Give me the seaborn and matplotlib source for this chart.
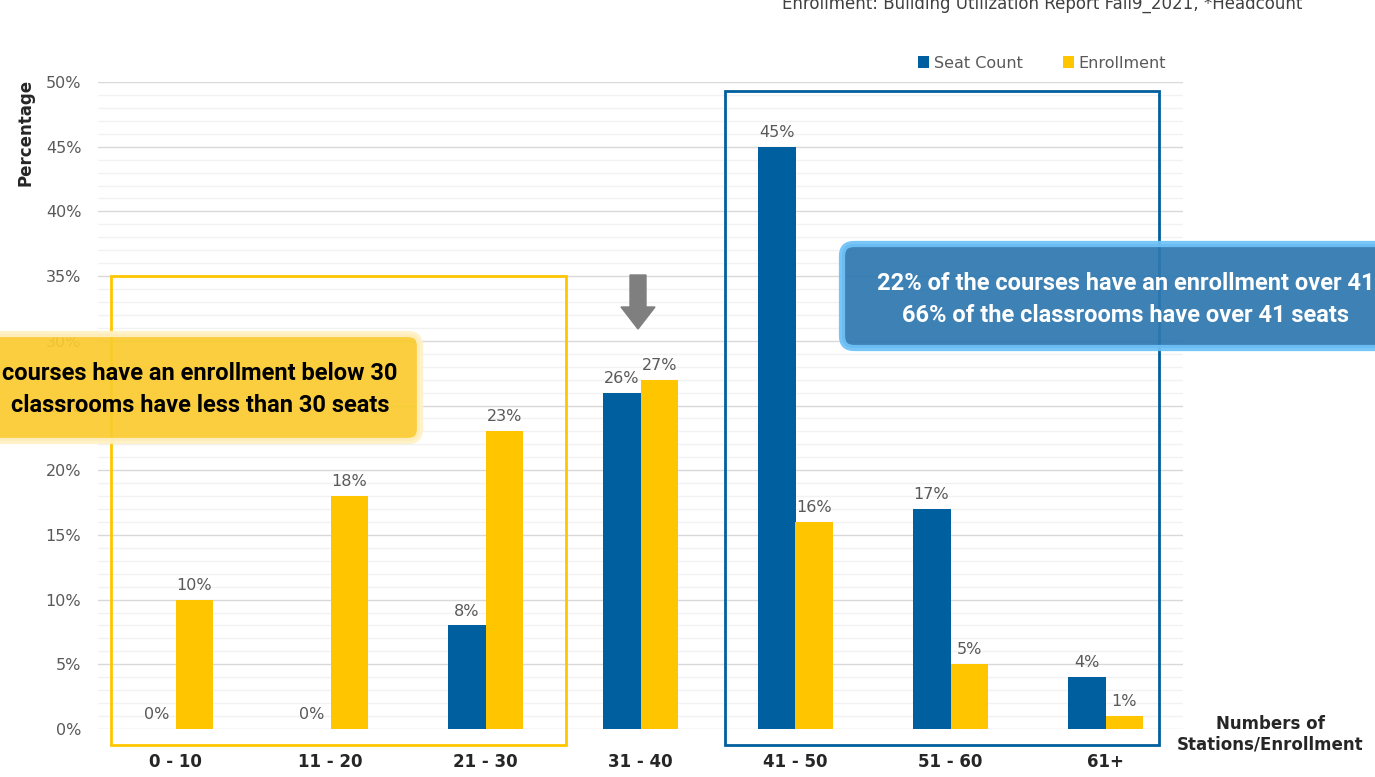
import numpy as np
import pandas as pd
import matplotlib
matplotlib.use("Agg")
import matplotlib.pyplot as plt
import matplotlib.patches as mpatches
from matplotlib.ticker import MultipleLocator, FuncFormatter
import seaborn as sns

# values (percent)
CATEGORIES = ["0 - 10", "11 - 20", "21 - 30", "31 - 40", "41 - 50", "51 - 60", "61+"]
SEAT_COUNT = [0, 0, 8, 26, 45, 17, 4]
ENROLLMENT = [10, 18, 23, 27, 16, 5, 1]
SERIES     = ["Seat Count", "Enrollment"]

BLUE   = "#005F9E"
YELLOW = "#FFC600"
GREY   = "#595959"

df = pd.DataFrame({
    "range":  CATEGORIES * 2,
    "pct":    SEAT_COUNT + ENROLLMENT,
    "series": [SERIES[0]] * len(CATEGORIES) + [SERIES[1]] * len(CATEGORIES),
})

sns.set_style("white")
plt.rcParams["font.family"] = ["DejaVu Sans"]
COND = ["Roboto", "DejaVu Sans"]

fig = plt.figure(figsize=(13.75, 7.77), dpi=100)
ax = fig.add_axes([98 / 1375, 48 / 777, (1183 - 98) / 1375, (729 - 82) / 777])

sns.barplot(data=df, x="range", y="pct", hue="series", order=CATEGORIES,
            hue_order=SERIES, palette=[BLUE, YELLOW], width=0.49, gap=0,
            saturation=1, linewidth=0, ax=ax, zorder=2)

for cont in ax.containers:
    ax.bar_label(cont, fmt="%g%%", padding=5, color=GREY, fontsize=11.5)

ax.set_xlim(-0.5, 6.5)
ax.set_ylim(0, 50)
ax.yaxis.set_major_locator(MultipleLocator(5))
ax.yaxis.set_minor_locator(MultipleLocator(1))
ax.yaxis.set_major_formatter(FuncFormatter(lambda v, _: f"{v:.0f}%"))
ax.grid(axis="y", which="major", color="#d9d9d9", lw=1, zorder=0)
ax.grid(axis="y", which="minor", color="#f2f2f2", lw=1, zorder=0)
ax.set_axisbelow(True)
sns.despine(ax=ax, left=True, bottom=True)
ax.tick_params(axis="y", which="both", length=0, labelsize=11.5, labelcolor=GREY, pad=12)
ax.tick_params(axis="x", length=0, labelsize=12, pad=17)
for lbl in ax.get_xticklabels():
    lbl.set_fontweight("bold")
ax.set_xlabel("")
ax.set_ylabel("")

sns.move_legend(ax, "center", bbox_to_anchor=(1042 / 1375, 1 - 63 / 777),
                bbox_transform=fig.transFigure, ncol=2, frameon=False, title=None,
                fontsize=11.5, handlelength=0.7, handleheight=0.7,
                handletextpad=0.3, columnspacing=2.5)
for t in ax.get_legend().get_texts():
    t.set_color(GREY)

# outline boxes around the groups
ax.add_patch(mpatches.Rectangle((-0.416, -1.24), 2.933, 36.24, fill=False,
                                ec=YELLOW, lw=2, clip_on=False, zorder=3))
ax.add_patch(mpatches.Rectangle((3.544, -1.24), 2.804, 50.54, fill=False,
                                ec=BLUE, lw=2, clip_on=False, zorder=3))

inch = fig.dpi_scale_trans

# arrow over 31 - 40
fig.add_artist(mpatches.FancyArrow(6.38, 5.02, 0, -0.54, width=0.16,
                                   head_width=0.34, head_length=0.22,
                                   length_includes_head=True, color="#7f7f7f",
                                   transform=inch))

# callouts
fig.add_artist(mpatches.FancyBboxPatch((-0.3, 7.77 - 4.41), 4.5, 1.07,
                                       boxstyle="round,pad=0,rounding_size=0.12",
                                       fc="#FACB2F", ec="#FFF0C4", lw=4.5,
                                       alpha=0.93, transform=inch))
fig.add_artist(mpatches.FancyBboxPatch((8.42, 7.77 - 3.48), 6.0, 1.04,
                                       boxstyle="round,pad=0,rounding_size=0.12",
                                       fc="#2E78B0", ec="#6EC1F7", lw=4.5,
                                       alpha=0.93, transform=inch))

fig.text(200 / 1375, 1 - 373 / 777, "courses have an enrollment below 30",
         ha="center", va="center", fontsize=17, fontweight="bold", color="black", family=COND)
fig.text(200 / 1375, 1 - 406 / 777, "classrooms have less than 30 seats",
         ha="center", va="center", fontsize=17, fontweight="bold", color="black", family=COND)
fig.text(1126 / 1375, 1 - 283 / 777, "22% of the courses have an enrollment over 41",
         ha="center", va="center", fontsize=17, fontweight="bold", color="white", family=COND)
fig.text(1126 / 1375, 1 - 316 / 777, "66% of the classrooms have over 41 seats",
         ha="center", va="center", fontsize=17, fontweight="bold", color="white", family=COND)

# axis titles
fig.text(25 / 1375, 1 - 132 / 777, "Percentage", rotation=90, ha="center",
         va="center", fontsize=12, fontweight="bold")
fig.text(1270 / 1375, 1 - 734 / 777, "Numbers of\nStations/Enrollment", ha="center",
         va="center", fontsize=12, fontweight="bold", linespacing=1.2)

# source note, clipped at the top edge like the original
fig.text(1042 / 1375, 1 - 4 / 777,
         "Enrollment: Building Utilization Report Fall9_2021, *Headcount",
         ha="center", va="center", fontsize=12, color="#404040")

fig.savefig("out.png", dpi=100)
